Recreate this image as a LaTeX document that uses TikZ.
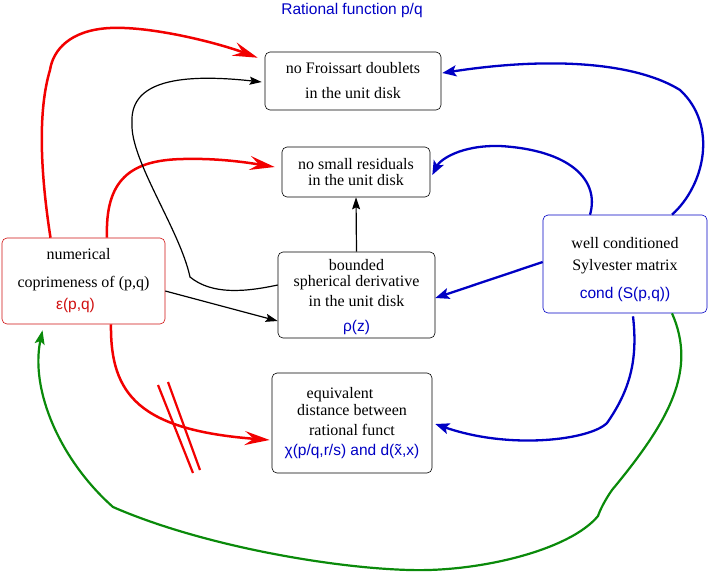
\documentclass[tikz,border=0pt]{standalone}
\usepackage{fontspec}
\setmainfont{Liberation Serif}
\setsansfont{Liberation Sans}
\usetikzlibrary{arrows.meta}
\definecolor{ArrRed}{HTML}{F20000}
\definecolor{BoxRed}{HTML}{D01010}
\definecolor{ArrBlue}{HTML}{0000C4}
\definecolor{ArrGreen}{HTML}{0A8A0A}
\newcommand{\blueval}[1]{{\color{ArrBlue}\sffamily\fontsize{15.5}{18}\selectfont #1}}

\begin{document}
\begin{tikzpicture}[
    x=1pt, y=-1pt,
    font=\fontsize{16}{18}\selectfont,
    box/.style={
      draw,
      rounded corners=5pt,
      line width=0.6pt,
      align=center,
      inner sep=0pt,
    },
    val/.style={font=\sffamily\fontsize{15.5}{18}\selectfont},
    redarr/.style={ArrRed, line width=2.5pt,
      -{Stealth[length=25pt,width=14pt,inset=9pt]}},
    bluearr/.style={ArrBlue, line width=2.3pt,
      -{Stealth[length=14pt,width=11pt,inset=3pt]}},
    greenarr/.style={ArrGreen, line width=2.2pt,
      -{Stealth[length=14pt,width=10pt,inset=3pt]}},
    blackarr/.style={black, line width=1.2pt,
      -{Stealth[length=12pt,width=8pt,inset=2pt]}},
  ]
    \useasboundingbox (0,0) rectangle (711,574);

    % ---- title ----
    \node[val, text=ArrBlue, anchor=base] (title) at (352,14)
      {Rational function p/q};

    % ---- boxes ----
    \node[box, minimum width=176pt, minimum height=58pt] (froi) at (353,81)
      {no Froissart doublets\\[7pt] in the unit disk};
    \node[box, minimum width=148pt, minimum height=50pt] (resid) at (356,172)
      {no small residuals\\[-2pt] in the unit disk};
    \node[box, minimum width=157pt, minimum height=86pt] (bnd) at (356.5,295)
      {\rule{0pt}{16pt}bounded\\[-2pt] spherical derivative\\[2pt] in the unit disk\\[7pt]
       \blueval{ρ(z)}};
    \node[box, minimum width=160pt, minimum height=100pt] (equiv) at (352,423)
      {equivalent\hspace*{24pt}\\[-1pt] distance between\\[2pt] rational funct\\[2pt]
       \blueval{χ(p/q,r/s) and d(\~{x},x)}};
    \node[box, draw=BoxRed, minimum width=163pt, minimum height=86pt] (num)
      at (83.5,281)
      {numerical\hspace*{10pt}\\[10pt] coprimeness of (p,q)\\[4pt]
       {\color{BoxRed}\sffamily\fontsize{15.5}{18}\selectfont ε(p,q)\hspace*{16pt}}};
    \node[box, draw=ArrBlue, minimum width=164pt, minimum height=98pt] (syl)
      at (625,264)
      {\rule{0pt}{22pt}well conditioned\\[4pt] Sylvester matrix\\[10pt]
       \blueval{cond (S(p,q))}};

    % ---- red: from coprimeness ----
    \draw[redarr] ([xshift=-33pt]num.north)
      .. controls (40,170) and (38,110) .. (50,70)
      .. controls (53,50) and (70,30) .. (110,28)
      .. controls (150,26) and (215,42) .. ([xshift=-7pt,yshift=-6pt]froi.north west);
    \draw[redarr] ([xshift=23.5pt]num.north)
      .. controls (105,180) and (130,160) .. (183,159)
      .. controls (220,158) and (250,163) .. ([xshift=-7pt,yshift=5pt]resid.west);
    \draw[redarr] ([xshift=27.5pt]num.south)
      .. controls (110,395) and (140,430) .. ([xshift=-2pt,yshift=-17pt]equiv.west);
    \draw[ArrRed, line width=2.2pt] (158,385) -- (193,473);
    \draw[ArrRed, line width=2.2pt] (168,382) -- (200,470);

    % ---- black ----
    \draw[blackarr] ([yshift=10pt]bnd.west)
      .. controls (245,292) and (212,295) .. (190,277)
      .. controls (180,230) and (130,160) .. (132,123)
      .. controls (130,85) and (170,72) .. ([xshift=-3pt,yshift=-1pt]froi.west);
    \draw[blackarr] ([yshift=-10pt]num.east) -- ([yshift=-26pt]bnd.west);
    \draw[blackarr] (bnd.north) -- (resid.south);

    % ---- blue: from Sylvester ----
    \draw[bluearr] ([yshift=2pt]syl.west) -- ([yshift=-3pt]bnd.east);
    \draw[bluearr] ([xshift=-35pt]syl.north)
      .. controls (600,180) and (570,150) .. (500,146)
      .. controls (460,145) and (440,160) .. ([xshift=2pt,yshift=-3pt]resid.east);
    \draw[bluearr] ([xshift=47pt]syl.north)
      .. controls (705,185) and (718,125) .. (680,90)
      .. controls (640,65) and (560,55) .. ([xshift=1pt,yshift=8pt]froi.east);
    \draw[bluearr] ([xshift=8pt,yshift=-3pt]syl.south)
      .. controls (638,360) and (630,390) .. (607,423)
      .. controls (590,440) and (510,450) .. ([xshift=3pt,yshift=-1pt]equiv.east);

    % ---- green: back to coprimeness ----
    \draw[greenarr] ([xshift=47pt]syl.south)
      .. controls (697,370) and (670,420) .. (612,490)
      .. controls (605,500) and (600,510) .. (598,516)
      .. controls (570,550) and (480,572) .. (410,570)
      .. controls (330,568) and (200,545) .. (113,507)
      .. controls (60,460) and (30,390) .. ([xshift=-41pt,yshift=-6pt]num.south);
  \end{tikzpicture}
\end{document}
